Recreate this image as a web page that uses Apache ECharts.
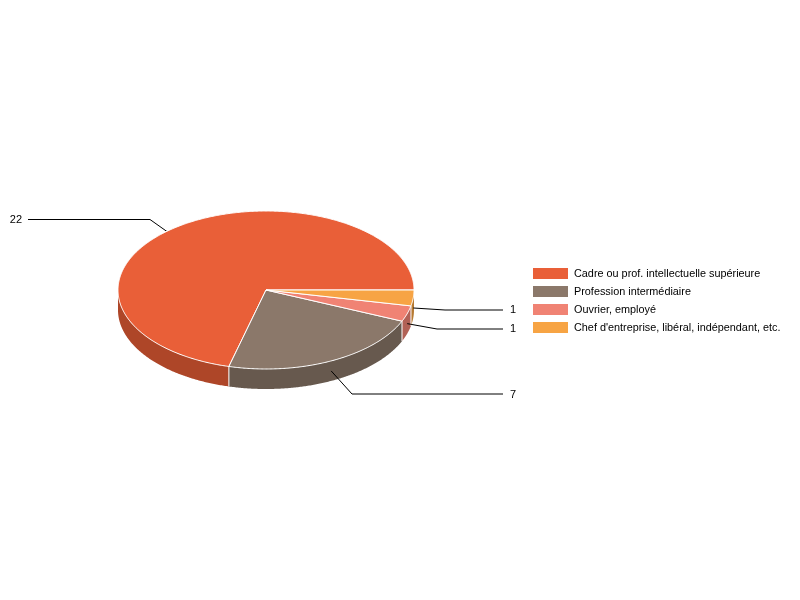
<!DOCTYPE html>
<html>
<head>
<meta charset="utf-8">
<style>html,body{margin:0;padding:0;background:#fff}#c{width:800px;height:600px}</style>
<script src="https://cdn.jsdelivr.net/npm/echarts@6/dist/echarts.min.js"></script>
</head>
<body>
<div id="c"></div>
<script>
var categories = ["Cadre ou prof. intellectuelle supérieure", "Profession intermédiaire", "Ouvrier, employé", "Chef d'entreprise, libéral, indépendant, etc."];
var values = [22, 7, 1, 1];
var topColors = ["#E95F38", "#8B786A", "#F08374", "#F7A444"];
var wallColors = ["#AE4628", "#67594E", "#B16156", "#B77A32"];
var labelElbows = [[150, 219.5], [352, 394], [437, 329], [445, 310]];
var labelEnds = [28, 503, 503, 503];
var labelYs = [219.5, 395, 329, 310];

var CX = 266, CY = 290, RX = 148, RY = 79, DEPTH = 20;
var total = values.reduce(function (a, b) { return a + b; }, 0);

function pt(deg, dy) {
  var r = deg * Math.PI / 180;
  return [CX + RX * Math.cos(r), CY - RY * Math.sin(r) + (dy || 0)];
}
function arc(a0, a1, dy) {
  var pts = [], n = Math.max(2, Math.ceil(Math.abs(a1 - a0) / 0.5));
  for (var i = 0; i <= n; i++) pts.push(pt(a0 + (a1 - a0) * i / n, dy));
  return pts;
}
function startAngle(idx) {
  var s = 0;
  for (var i = 0; i < idx; i++) s += values[i];
  return s / total * 360;
}
function renderSlice(idx) {
  return function () {
    var a0 = startAngle(idx), a1 = a0 + values[idx] / total * 360, mid = (a0 + a1) / 2;
    var children = [];
    var w0 = Math.max(a0, 180), w1 = Math.min(a1, 360);
    if (w1 > w0) {
      children.push({
        type: 'polygon', z2: 1,
        shape: { points: arc(w0, w1, 0).concat(arc(w1, w0, DEPTH)) },
        style: { fill: wallColors[idx] }
      });
      var sepPts = [pt(w1 < 360 ? w1 : w0), pt(w1 < 360 ? w1 : w0, DEPTH)];
      if (w1 < 360) children.push({
        type: 'polyline', z2: 2, shape: { points: sepPts },
        style: { stroke: '#fff', lineWidth: 1, fill: null }
      });
    }
    var anchor = pt(mid, DEPTH / 2), elbow = labelElbows[idx], endX = labelEnds[idx];
    children.push({
      type: 'polyline', z2: 5,
      shape: { points: [anchor, elbow, [endX, elbow[1]]] },
      style: { stroke: '#000', lineWidth: 1, fill: null }
    });
    children.push({
      type: 'text', z2: 6,
      style: {
        text: String(values[idx]),
        x: endX < CX ? endX - 6 : endX + 7,
        y: labelYs[idx],
        align: endX < CX ? 'right' : 'left',
        verticalAlign: 'middle',
        fill: '#000',
        font: '11px "Liberation Sans", Arial, sans-serif'
      }
    });
    children.push({
      type: 'polygon', z2: 10,
      shape: { points: [[CX, CY]].concat(arc(a0, a1, 0)) },
      style: { fill: topColors[idx], stroke: '#fff', lineWidth: 1 }
    });
    return { type: 'group', children: children };
  };
}

var series = categories.map(function (name, idx) {
  return {
    type: 'custom',
    name: name,
    coordinateSystem: 'none',
    silent: true,
    animation: false,
    clip: false,
    itemStyle: { color: topColors[idx] },
    data: [values[idx]],
    renderItem: renderSlice(idx)
  };
});

var chart = echarts.init(document.getElementById('c'), null, { renderer: 'canvas' });
chart.setOption({
  animation: false,
  backgroundColor: '#fff',
  legend: {
    show: true,
    orient: 'vertical',
    left: 533,
    top: 268,
    padding: 0,
    itemWidth: 35,
    itemHeight: 11,
    itemGap: 7,
    icon: 'rect',
    selectedMode: false,
    data: categories,
    textStyle: { color: '#000', fontSize: 10.85, fontFamily: '"Liberation Sans", Arial, sans-serif', padding: [0, 0, 0, 1] }
  },
  series: series
});
</script>
</body>
</html>
